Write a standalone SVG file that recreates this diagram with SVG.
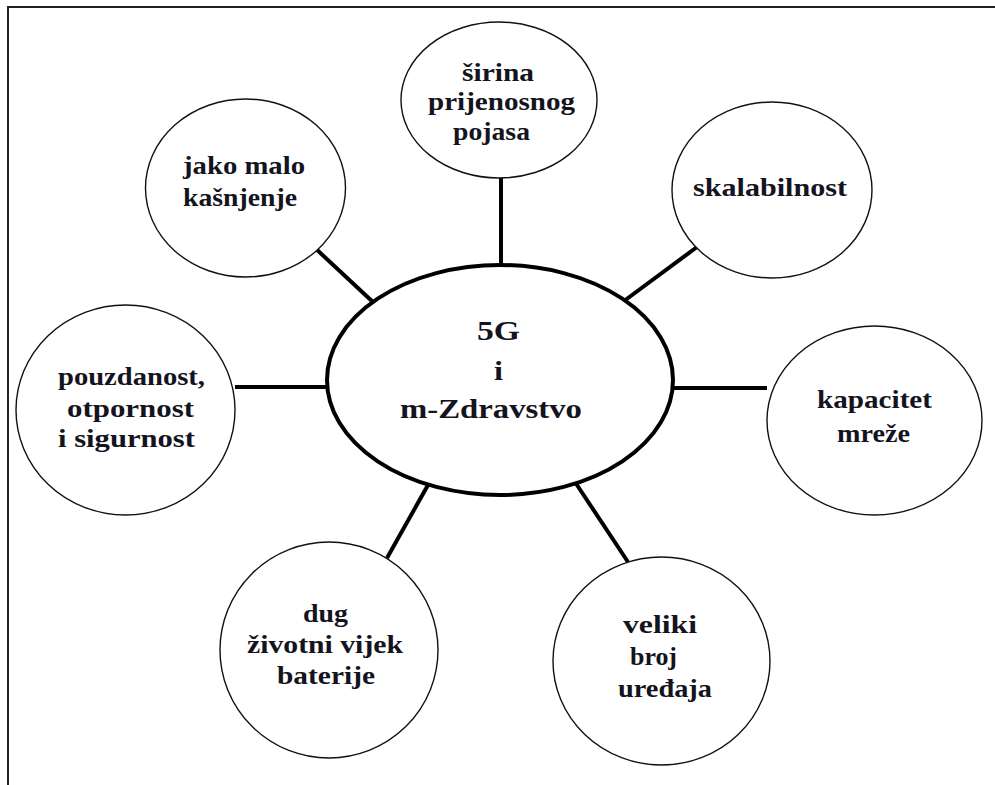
<svg xmlns="http://www.w3.org/2000/svg" width="995" height="785" viewBox="0 0 995 785">
<style>
.frame{stroke:#222;stroke-width:2;fill:none}
.node{fill:#fff;stroke:#111;stroke-width:1.4}
.hub{fill:#fff;stroke:#000;stroke-width:4}
.conn{stroke:#000;stroke-width:4;stroke-linecap:butt}
.t{font-family:'Liberation Serif','Times New Roman','DejaVu Serif',serif;font-weight:700;font-size:26px;fill:#141420}
.big{font-size:27px}
</style>
<rect width="995" height="785" fill="#fff"/>
<path class="frame" d="M8,785 V7 H995"/>
<g id="connectors">
<line class="conn" x1="501" y1="178" x2="501" y2="266"/>
<line class="conn" x1="315" y1="248" x2="374" y2="303"/>
<line class="conn" x1="697" y1="247" x2="624" y2="301"/>
<line class="conn" x1="235" y1="387" x2="328" y2="387"/>
<line class="conn" x1="672" y1="388" x2="767" y2="388"/>
<line class="conn" x1="387" y1="558" x2="428" y2="485"/>
<line class="conn" x1="575" y1="482" x2="628" y2="562"/>
</g>
<g id="hub">
<ellipse class="hub" cx="500" cy="380" rx="173" ry="115"/>
<text class="t big" x="477" y="340" textLength="43" lengthAdjust="spacingAndGlyphs">5G</text>
<text class="t big" x="494" y="380" textLength="9" lengthAdjust="spacingAndGlyphs">i</text>
<text class="t big" x="400" y="418" textLength="182" lengthAdjust="spacingAndGlyphs">m-Zdravstvo</text>
</g>
<g id="n-sirina">
<ellipse class="node" cx="499" cy="100" rx="98" ry="78"/>
<text class="t" x="462" y="81" textLength="72" lengthAdjust="spacingAndGlyphs">širina</text>
<text class="t" x="428" y="110" textLength="147" lengthAdjust="spacingAndGlyphs">prijenosnog</text>
<text class="t" x="453" y="140" textLength="77" lengthAdjust="spacingAndGlyphs">pojasa</text>
</g>
<g id="n-kasnjenje">
<ellipse class="node" cx="245.5" cy="188" rx="100" ry="89"/>
<text class="t" x="183" y="174" textLength="122" lengthAdjust="spacingAndGlyphs">jako malo</text>
<text class="t" x="183" y="206" textLength="114" lengthAdjust="spacingAndGlyphs">kašnjenje</text>
</g>
<g id="n-skalabilnost">
<ellipse class="node" cx="772" cy="190" rx="100" ry="88"/>
<text class="t" x="693" y="196" textLength="154" lengthAdjust="spacingAndGlyphs">skalabilnost</text>
</g>
<g id="n-pouzdanost">
<ellipse class="node" cx="125.5" cy="410" rx="109.5" ry="105"/>
<text class="t" x="58" y="385" textLength="147" lengthAdjust="spacingAndGlyphs">pouzdanost,</text>
<text class="t" x="67" y="417" textLength="127" lengthAdjust="spacingAndGlyphs">otpornost</text>
<text class="t" x="58" y="447" textLength="137" lengthAdjust="spacingAndGlyphs">i sigurnost</text>
</g>
<g id="n-kapacitet">
<ellipse class="node" cx="874.5" cy="420.5" rx="107.5" ry="94.5"/>
<text class="t" x="817" y="408" textLength="115" lengthAdjust="spacingAndGlyphs">kapacitet</text>
<text class="t" x="837" y="442" textLength="73" lengthAdjust="spacingAndGlyphs">mreže</text>
</g>
<g id="n-baterija">
<ellipse class="node" cx="329" cy="650" rx="109" ry="108"/>
<text class="t" x="303" y="622" textLength="45" lengthAdjust="spacingAndGlyphs">dug</text>
<text class="t" x="247" y="653" textLength="156" lengthAdjust="spacingAndGlyphs">životni vijek</text>
<text class="t" x="277" y="684" textLength="98" lengthAdjust="spacingAndGlyphs">baterije</text>
</g>
<g id="n-uredaji">
<ellipse class="node" cx="661.5" cy="661" rx="108.5" ry="104"/>
<text class="t" x="623" y="633" textLength="74" lengthAdjust="spacingAndGlyphs">veliki</text>
<text class="t" x="630" y="665" textLength="47" lengthAdjust="spacingAndGlyphs">broj</text>
<text class="t" x="618" y="697" textLength="94" lengthAdjust="spacingAndGlyphs">uređaja</text>
</g>
</svg>
